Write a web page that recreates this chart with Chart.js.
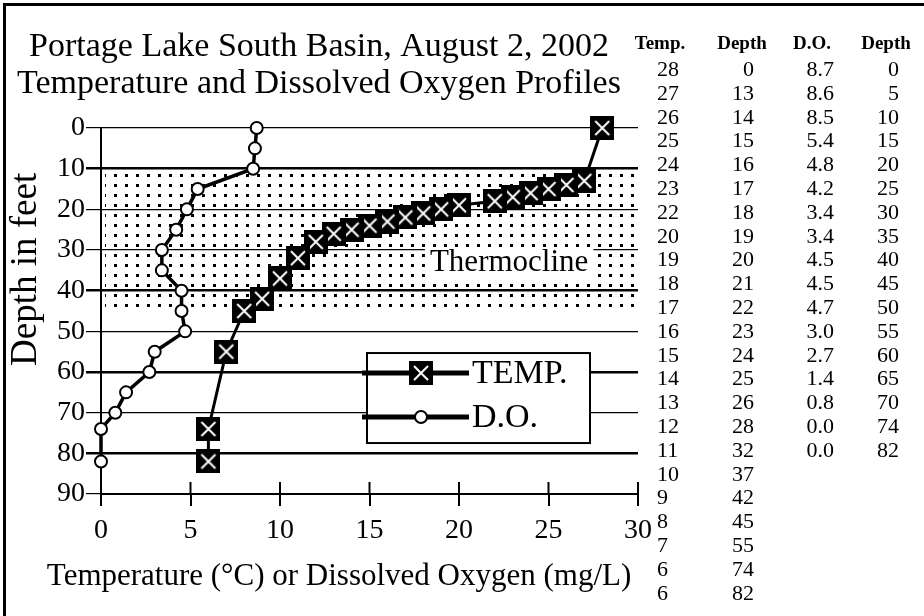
<!DOCTYPE html>
<html lang="en">
  <head>
    <meta charset="UTF-8" />
    <title>Portage Lake South Basin, August 2, 2002</title>
    <script src="https://cdn.jsdelivr.net/npm/chart.js"></script>
    <style>
      html,
      body {
        margin: 0;
        padding: 0;
        background: #fff;
      }
      #wrap {
        position: relative;
        width: 924px;
        height: 616px;
        overflow: hidden;
      }
      #chart {
        position: absolute;
        left: 0;
        top: 0;
      }
      .cell {
        position: absolute;
        font-family: "Liberation Serif", "DejaVu Serif", serif;
        font-size: 22px;
        color: #000;
        white-space: nowrap;
        height: 24px;
        line-height: 24px;
      }
      .head {
        font-weight: bold;
        font-size: 19px;
      }
    </style>
  </head>
  <body>
    <div id="wrap">
      <canvas id="chart" width="924" height="616"></canvas>
      <div id="profileTable"></div>
    </div>

    <script>
      const tempC = [28, 27, 26, 25, 24, 23, 22, 20, 19, 18, 17, 16, 15, 14, 13, 12, 11, 10, 9, 8, 7, 6, 6];
      const tempDepth = [0, 13, 14, 15, 16, 17, 18, 19, 20, 21, 22, 23, 24, 25, 26, 28, 32, 37, 42, 45, 55, 74, 82];
      const doMgL = [8.7, 8.6, 8.5, 5.4, 4.8, 4.2, 3.4, 3.4, 4.5, 4.5, 4.7, 3.0, 2.7, 1.4, 0.8, 0.0, 0.0];
      const doDepth = [0, 5, 10, 15, 20, 25, 30, 35, 40, 45, 50, 55, 60, 65, 70, 74, 82];
      const xTicks = [0, 5, 10, 15, 20, 25, 30];
      const depthTicks = [0, 10, 20, 30, 40, 50, 60, 70, 80, 90];
      const heavyDepths = [10, 40, 60, 80];
      const thermocline = [11, 44];
      const seriesLabels = ["TEMP.", "D.O."];
      const tableHeaders = ["Temp.", "Depth", "D.O.", "Depth"];
      const xTitle = "Temperature (°C) or Dissolved Oxygen (mg/L)";

      const SERIF = "'Liberation Serif', 'DejaVu Serif', serif";
      Chart.defaults.font.family = SERIF;
      Chart.defaults.color = "#000";

      // ---- side table ----
      function buildTable() {
        const box = document.getElementById("profileTable");
        const cols = [
          { values: tempC.map(String), head: tableHeaders[0], x: 657, align: "left", hx: 660 },
          { values: tempDepth.map(String), head: tableHeaders[1], x: 754, align: "right", hx: 742 },
          { values: doMgL.map((v) => v.toFixed(1)), head: tableHeaders[2], x: 834, align: "right", hx: 812 },
          { values: doDepth.map(String), head: tableHeaders[3], x: 899, align: "right", hx: 886 },
        ];
        const headY = 43;
        const rowY0 = 69;
        const rowH = 23.8;
        cols.forEach((col) => {
          const h = document.createElement("div");
          h.className = "cell head";
          h.textContent = col.head;
          h.style.top = headY - 12 + "px";
          h.style.left = col.hx - 40 + "px";
          h.style.width = "80px";
          h.style.textAlign = "center";
          box.appendChild(h);
          col.values.forEach((v, i) => {
            const d = document.createElement("div");
            d.className = "cell";
            d.textContent = v;
            d.style.top = rowY0 + i * rowH - 12 + "px";
            if (col.align === "left") {
              d.style.left = col.x + "px";
            } else {
              d.style.left = col.x - 60 + "px";
              d.style.width = "60px";
              d.style.textAlign = "right";
            }
            box.appendChild(d);
          });
        });
      }
      buildTable();

      // ---- markers ----
      function makeTempMarker(size) {
        const c = document.createElement("canvas");
        c.width = size;
        c.height = size;
        const g = c.getContext("2d");
        g.fillStyle = "#000";
        g.fillRect(0, 0, size, size);
        g.strokeStyle = "#fff";
        g.lineWidth = 2;
        const m = 5;
        g.beginPath();
        g.moveTo(m, m);
        g.lineTo(size - m, size - m);
        g.moveTo(size - m, m);
        g.lineTo(m, size - m);
        g.stroke();
        return c;
      }
      const tempMarker = makeTempMarker(24);

      function makeDots() {
        const c = document.createElement("canvas");
        c.width = 11;
        c.height = 10;
        const g = c.getContext("2d");
        g.fillStyle = "#000";
        g.fillRect(4, 4, 3, 3);
        return c;
      }

      // ---- plugins ----
      const thermoclinePlugin = {
        id: "thermocline",
        beforeDatasetsDraw(chart) {
          const { ctx, chartArea: ca, scales } = chart;
          const y0 = scales.y.getPixelForValue(thermocline[0]);
          const y1 = scales.y.getPixelForValue(thermocline[1]);
          ctx.save();
          ctx.fillStyle = ctx.createPattern(makeDots(), "repeat");
          ctx.fillRect(ca.left + 4, y0, ca.right - ca.left - 4, y1 - y0);
          // label with a white backing
          ctx.font = "31px " + SERIF;
          const label = "Thermocline";
          const w = ctx.measureText(label).width;
          const cx = scales.x.getPixelForValue(22.8);
          const cy = scales.y.getPixelForValue(33.2);
          ctx.fillStyle = "#fff";
          ctx.fillRect(cx - w / 2 - 5, cy - 16, w + 10, 33);
          ctx.fillStyle = "#000";
          ctx.textAlign = "center";
          ctx.textBaseline = "middle";
          ctx.fillText(label, cx, cy);
          ctx.restore();
        },
      };

      const axisExtrasPlugin = {
        id: "axisExtras",
        afterDraw(chart) {
          const { ctx, scales } = chart;
          const yAxis = scales.x.top;
          ctx.save();
          // x ticks also reach up into the plot
          ctx.strokeStyle = "#000";
          ctx.lineWidth = 2;
          xTicks.forEach((v) => {
            if (v === 0) return;
            const x = scales.x.getPixelForValue(v);
            ctx.beginPath();
            ctx.moveTo(x, yAxis);
            ctx.lineTo(x, yAxis - 12);
            ctx.stroke();
          });
          // x-axis title, sitting left of the plot centre as in the original
          ctx.fillStyle = "#000";
          ctx.font = "31px " + SERIF;
          ctx.textAlign = "center";
          ctx.textBaseline = "middle";
          ctx.fillText(xTitle, scales.x.getPixelForValue(13.3), yAxis + 83);
          // outer frame (top and left)
          ctx.lineWidth = 3;
          ctx.beginPath();
          ctx.moveTo(4.5, chart.height);
          ctx.lineTo(4.5, 4.5);
          ctx.lineTo(chart.width, 4.5);
          ctx.stroke();
          ctx.restore();
        },
      };

      const boxLegendPlugin = {
        id: "boxLegend",
        afterDatasetsDraw(chart) {
          const { ctx, chartArea: ca } = chart;
          const left = ca.left + 266;
          const top = ca.top + 225;
          const w = 223;
          const h = 90;
          ctx.save();
          ctx.fillStyle = "#fff";
          ctx.fillRect(left, top, w, h);
          ctx.strokeStyle = "#000";
          ctx.lineWidth = 2;
          ctx.strokeRect(left, top, w, h);
          const rows = [top + 20, top + 64];
          chart.data.datasets.forEach((ds, i) => {
            const y = rows[i];
            ctx.lineWidth = 5;
            ctx.beginPath();
            ctx.moveTo(left - 5, y);
            ctx.lineTo(left + 102, y);
            ctx.stroke();
            if (ds.pointStyle === "circle") {
              ctx.fillStyle = "#fff";
              ctx.lineWidth = ds.pointBorderWidth;
              ctx.beginPath();
              ctx.arc(left + 54, y, ds.pointRadius, 0, Math.PI * 2);
              ctx.fill();
              ctx.stroke();
            } else {
              Chart.helpers.drawPoint(
                ctx,
                { pointStyle: ds.pointStyle, radius: ds.pointRadius, borderWidth: 0, rotation: 0 },
                left + 54,
                y
              );
            }
            ctx.fillStyle = "#000";
            ctx.font = "34px " + SERIF;
            ctx.textAlign = "left";
            ctx.textBaseline = "middle";
            ctx.fillText(seriesLabels[i], left + 105, y + 1);
          });
          ctx.restore();
        },
      };

      // ---- chart ----
      const ctx = document.getElementById("chart").getContext("2d");
      const chart = new Chart(ctx, {
        type: "scatter",
        data: {
          datasets: [
            {
              label: seriesLabels[0],
              data: tempC.map((t, i) => ({ x: t, y: tempDepth[i] })),
              showLine: true,
              borderColor: "#000",
              borderWidth: 3,
              pointStyle: tempMarker,
              pointRadius: 12,
              pointBorderWidth: 0,
              clip: false,
            },
            {
              label: seriesLabels[1],
              data: doMgL.map((v, i) => ({ x: v, y: doDepth[i] })),
              showLine: true,
              borderColor: "#000",
              borderWidth: 3.5,
              pointStyle: "circle",
              pointRadius: 6,
              pointBorderWidth: 2,
              pointBackgroundColor: "#fff",
              pointBorderColor: "#000",
              clip: false,
            },
          ],
        },
        options: {
          responsive: false,
          animation: false,
          events: [],
          layout: { padding: { left: 0, right: 286, top: 0, bottom: 0 } },
          plugins: {
            legend: { display: false },
            tooltip: { enabled: false },
            title: {
              display: true,
              text: [
                "Portage Lake South Basin, August 2, 2002",
                "Temperature and Dissolved Oxygen Profiles",
              ],
              color: "#000",
              font: { size: 34, weight: "normal", lineHeight: 1.08 },
              padding: { top: 29, bottom: 25.6 },
            },
          },
          scales: {
            x: {
              type: "linear",
              min: 0,
              max: 30,
              afterBuildTicks: (s) => {
                s.ticks = xTicks.map((v) => ({ value: v }));
              },
              afterFit: (s) => {
                s.height = 122;
              },
              grid: {
                drawOnChartArea: false,
                color: "#000",
                lineWidth: 2,
                tickLength: 12,
              },
              border: { color: "#000", width: 2 },
              ticks: { color: "#000", font: { size: 28 }, padding: 8, maxRotation: 0 },
            },
            y: {
              type: "linear",
              reverse: true,
              min: 0,
              max: 90,
              afterBuildTicks: (s) => {
                s.ticks = depthTicks.map((v) => ({ value: v }));
              },
              afterFit: (s) => {
                s.width = 101;
              },
              grid: {
                color: "#000",
                lineWidth: (c) => (c.tick && heavyDepths.includes(c.tick.value) ? 2.5 : 1.2),
                tickLength: 15,
              },
              border: { color: "#000", width: 2 },
              ticks: { color: "#000", font: { size: 28 }, padding: 1 },
              title: {
                display: true,
                // leading spaces lift the rotated title toward the top, as in the original
                text: "\u00a0\u00a0\u00a0\u00a0\u00a0\u00a0\u00a0\u00a0\u00a0Depth in feet",
                color: "#000",
                font: { size: 37 },
                padding: { top: 4, bottom: 0 },
              },
            },
          },
        },
        plugins: [thermoclinePlugin, boxLegendPlugin, axisExtrasPlugin],
      });
    </script>
  </body>
</html>
